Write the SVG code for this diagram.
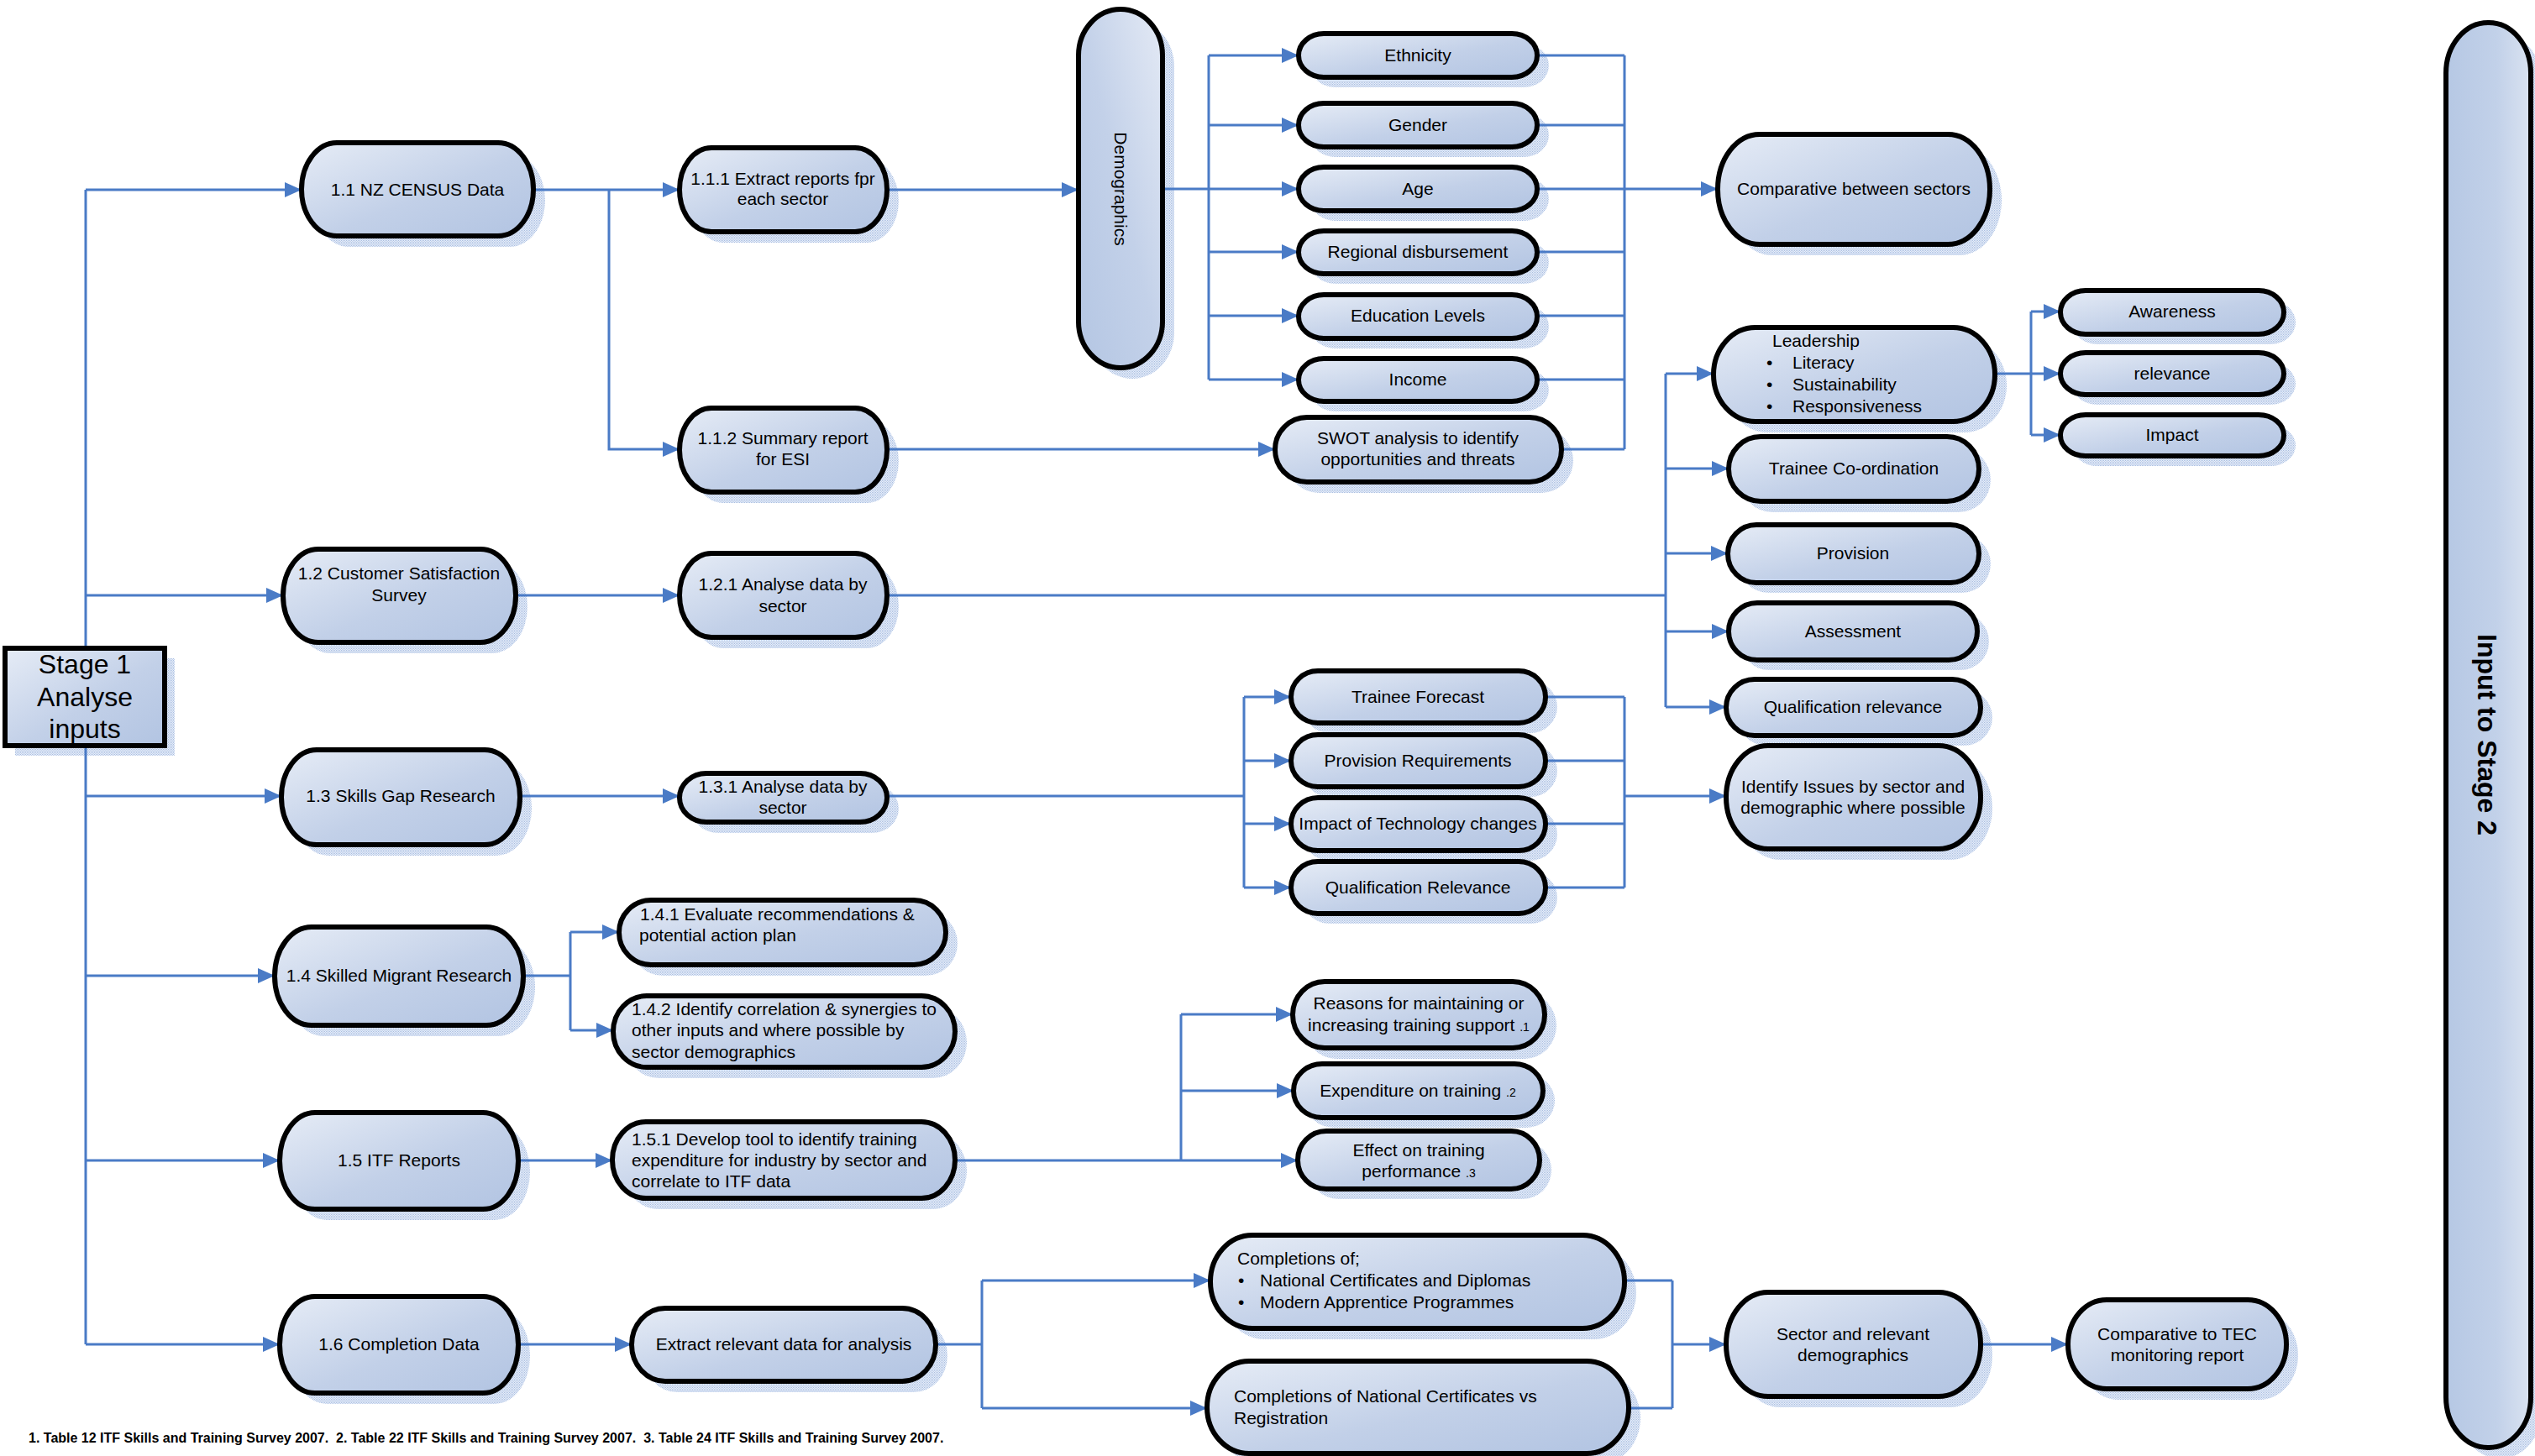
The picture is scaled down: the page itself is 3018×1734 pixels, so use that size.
<svg xmlns="http://www.w3.org/2000/svg" width="3018" height="1734" viewBox="0 0 3018 1734">
<defs>
<linearGradient id="g" x1="0" y1="0" x2="1" y2="1"><stop offset="0" stop-color="#e6ecf6"/><stop offset="0.55" stop-color="#c2d0e8"/><stop offset="1" stop-color="#b2c4e2"/></linearGradient>
<linearGradient id="gh" x1="0" y1="0" x2="1" y2="0"><stop offset="0" stop-color="#b6c8e4"/><stop offset="0.6" stop-color="#c2d1e9"/><stop offset="1" stop-color="#dae3f1"/></linearGradient>
<linearGradient id="gd" x1="1" y1="0" x2="0" y2="1"><stop offset="0" stop-color="#e4eaf5"/><stop offset="0.5" stop-color="#c3d1e9"/><stop offset="1" stop-color="#b4c6e3"/></linearGradient>
<pattern id="dots" width="2" height="2" patternUnits="userSpaceOnUse"><rect width="2" height="2" fill="#eaf0f9"/><rect width="1" height="1" fill="#a9bee2"/><rect x="1" y="1" width="1" height="1" fill="#c0d0ec"/></pattern>
<marker id="a" markerUnits="userSpaceOnUse" markerWidth="20" markerHeight="18" refX="20" refY="9" orient="auto"><path d="M0,0L20,9L0,18z" fill="#4a7bc6"/></marker>
</defs>
<style>
.nd{fill:url(#g);stroke:#000;stroke-width:6}
.sh{fill:url(#dots)}
.t{font-family:"Liberation Sans",Arial,sans-serif;font-size:21px;fill:#000}
.c{text-anchor:middle}
.b{font-weight:bold}
.ln{fill:none;stroke:#4a7bc6;stroke-width:3}
.ar{marker-end:url(#a)}
.s{font-size:14px}
</style>
<rect width="3018" height="1734" fill="#fff"/>

<g id="shadows">
<rect class="sh" x="18" y="784" width="190" height="116"/>
<rect class="sh" x="373" y="183" width="276" height="111" rx="42" ry="55.5"/>
<rect class="sh" x="351" y="667" width="277" height="111" rx="42" ry="55.5"/>
<rect class="sh" x="349" y="906" width="284" height="113" rx="42" ry="56.5"/>
<rect class="sh" x="341" y="1117" width="296" height="117" rx="44" ry="58.5"/>
<rect class="sh" x="347" y="1338" width="284" height="115" rx="42" ry="57.5"/>
<rect class="sh" x="347" y="1557" width="284" height="115" rx="42" ry="57.5"/>
<rect class="sh" x="823" y="189" width="247" height="100" rx="38" ry="50"/>
<rect class="sh" x="823" y="499" width="247" height="100" rx="38" ry="50"/>
<rect class="sh" x="823" y="672" width="247" height="100" rx="38" ry="50"/>
<rect class="sh" x="823" y="934" width="247" height="58" rx="32" ry="29"/>
<rect class="sh" x="751" y="1085" width="389" height="77" rx="38" ry="38.5"/>
<rect class="sh" x="744" y="1199" width="407" height="85" rx="40" ry="42.5"/>
<rect class="sh" x="743" y="1349" width="408" height="91" rx="40" ry="45.5"/>
<rect class="sh" x="766" y="1571" width="362" height="87" rx="40" ry="43.5"/>
<rect class="sh" x="1298" y="24" width="100" height="427" rx="50" ry="55"/>
<rect class="sh" x="1560" y="52" width="284" height="52" rx="30" ry="26"/>
<rect class="sh" x="1560" y="135" width="284" height="52" rx="30" ry="26"/>
<rect class="sh" x="1560" y="211" width="284" height="52" rx="30" ry="26"/>
<rect class="sh" x="1560" y="287" width="284" height="51" rx="30" ry="25.5"/>
<rect class="sh" x="1560" y="363" width="284" height="52" rx="30" ry="26"/>
<rect class="sh" x="1560" y="439" width="284" height="51" rx="30" ry="25.5"/>
<rect class="sh" x="1532" y="510" width="341" height="77" rx="38" ry="38.5"/>
<rect class="sh" x="2059" y="173" width="324" height="131" rx="50" ry="65.5"/>
<rect class="sh" x="2054" y="403" width="335" height="112" rx="50" ry="56"/>
<rect class="sh" x="2467" y="358" width="266" height="52" rx="30" ry="26"/>
<rect class="sh" x="2467" y="432" width="266" height="50" rx="30" ry="25"/>
<rect class="sh" x="2467" y="506" width="266" height="49" rx="30" ry="24.5"/>
<rect class="sh" x="2072" y="533" width="298" height="77" rx="38" ry="38.5"/>
<rect class="sh" x="2071" y="637" width="299" height="69" rx="34" ry="34.5"/>
<rect class="sh" x="2072" y="730" width="296" height="68" rx="34" ry="34"/>
<rect class="sh" x="2069" y="821" width="303" height="67" rx="34" ry="33.5"/>
<rect class="sh" x="2069" y="901" width="303" height="123" rx="50" ry="61.5"/>
<rect class="sh" x="1551" y="811" width="303" height="62" rx="32" ry="31"/>
<rect class="sh" x="1551" y="887" width="303" height="62" rx="32" ry="31"/>
<rect class="sh" x="1551" y="962" width="303" height="63" rx="32" ry="31.5"/>
<rect class="sh" x="1551" y="1038" width="303" height="62" rx="32" ry="31"/>
<rect class="sh" x="1553" y="1182" width="300" height="79" rx="38" ry="39.5"/>
<rect class="sh" x="1554" y="1279" width="297" height="64" rx="34" ry="32"/>
<rect class="sh" x="1559" y="1359" width="288" height="69" rx="34" ry="34.5"/>
<rect class="sh" x="1455" y="1484" width="493" height="111" rx="50" ry="55.5"/>
<rect class="sh" x="1451" y="1634" width="502" height="110" rx="50" ry="55"/>
<rect class="sh" x="2069" y="1552" width="303" height="124" rx="50" ry="62"/>
<rect class="sh" x="2476" y="1561" width="260" height="106" rx="46" ry="53"/>
<rect class="sh" x="2926" y="40" width="101" height="1697" rx="50" ry="60"/>
</g>

<g id="connectors">
<path class="ln" d="M102,226V1601"/>
<path class="ln ar" d="M102,226H359"/>
<path class="ln ar" d="M102,709H337"/>
<path class="ln ar" d="M102,948H335"/>
<path class="ln ar" d="M102,1162H327"/>
<path class="ln ar" d="M102,1382H333"/>
<path class="ln ar" d="M102,1601H333"/>
<path class="ln ar" d="M635,226H809"/>
<path class="ln ar" d="M725,226V535H809"/>
<path class="ln ar" d="M1056,226H1284"/>
<path class="ln ar" d="M1056,535H1518"/>
<path class="ln" d="M1439,66V452"/>
<path class="ln ar" d="M1384,225H1546"/>
<path class="ln ar" d="M1439,66H1546"/>
<path class="ln ar" d="M1439,149H1546"/>
<path class="ln ar" d="M1439,300H1546"/>
<path class="ln ar" d="M1439,376H1546"/>
<path class="ln ar" d="M1439,452H1546"/>
<path class="ln" d="M1934,66V535"/>
<path class="ln" d="M1830,66H1934M1830,149H1934M1830,300H1934M1830,376H1934M1830,452H1934M1859,535H1934"/>
<path class="ln ar" d="M1830,225H2045"/>
<path class="ln ar" d="M614,709H809"/>
<path class="ln" d="M1056,709H1983M1983,445V842"/>
<path class="ln ar" d="M1983,445H2040"/>
<path class="ln ar" d="M1983,558H2058"/>
<path class="ln ar" d="M1983,659H2057"/>
<path class="ln ar" d="M1983,752H2058"/>
<path class="ln ar" d="M1983,842H2055"/>
<path class="ln ar" d="M2375,445H2453"/>
<path class="ln" d="M2418,371V518"/>
<path class="ln ar" d="M2418,371H2453"/>
<path class="ln ar" d="M2418,518H2453"/>
<path class="ln ar" d="M619,948H809"/>
<path class="ln" d="M1056,948H1481M1481,830V1057"/>
<path class="ln ar" d="M1481,830H1537"/>
<path class="ln ar" d="M1481,906H1537"/>
<path class="ln ar" d="M1481,981H1537"/>
<path class="ln ar" d="M1481,1057H1537"/>
<path class="ln" d="M1840,830H1934M1840,906H1934M1840,981H1934M1840,1057H1934M1934,830V1057"/>
<path class="ln ar" d="M1934,948H2055"/>
<path class="ln" d="M623,1162H679M679,1110V1227"/>
<path class="ln ar" d="M679,1110H737"/>
<path class="ln ar" d="M679,1227H730"/>
<path class="ln ar" d="M617,1382H729"/>
<path class="ln ar" d="M1137,1382H1545"/>
<path class="ln" d="M1406,1208V1382"/>
<path class="ln ar" d="M1406,1208H1539"/>
<path class="ln ar" d="M1406,1299H1540"/>
<path class="ln ar" d="M617,1601H752"/>
<path class="ln" d="M1114,1601H1169M1169,1525V1677"/>
<path class="ln ar" d="M1169,1525H1441"/>
<path class="ln ar" d="M1169,1677H1437"/>
<path class="ln" d="M1934,1525H1991M1939,1677H1991M1991,1525V1677"/>
<path class="ln ar" d="M1991,1601H2055"/>
<path class="ln ar" d="M2358,1601H2462"/>
</g>

<g id="stage1">
<rect class="nd" x="6" y="772" width="190" height="116"/>
<text class="t c" style="font-size:32px"><tspan x="101" y="802">Stage 1</tspan><tspan x="101" y="841">Analyse</tspan><tspan x="101" y="879">inputs</tspan></text>
</g>

<g id="n11">
<rect class="nd" x="359" y="170" width="276" height="111" rx="42" ry="55.5"/>
<text class="t c" x="497" y="233">1.1 NZ CENSUS Data</text>
</g>
<g id="n12">
<rect class="nd" x="337" y="654" width="277" height="111" rx="42" ry="55.5"/>
<text class="t c"><tspan x="475" y="690">1.2 Customer Satisfaction</tspan><tspan x="475" y="716">Survey</tspan></text>
</g>
<g id="n13">
<rect class="nd" x="335" y="893" width="284" height="113" rx="42" ry="56.5"/>
<text class="t c" x="477" y="955">1.3 Skills Gap Research</text>
</g>
<g id="n14">
<rect class="nd" x="327" y="1104" width="296" height="117" rx="44" ry="58.5"/>
<text class="t c" x="475" y="1169">1.4 Skilled Migrant Research</text>
</g>
<g id="n15">
<rect class="nd" x="333" y="1325" width="284" height="115" rx="42" ry="57.5"/>
<text class="t c" x="475" y="1389">1.5 ITF Reports</text>
</g>
<g id="n16">
<rect class="nd" x="333" y="1544" width="284" height="115" rx="42" ry="57.5"/>
<text class="t c" x="475" y="1608">1.6 Completion Data</text>
</g>

<g id="n111">
<rect class="nd" x="809" y="176" width="247" height="100" rx="38" ry="50"/>
<text class="t c"><tspan x="932" y="220">1.1.1 Extract reports fpr</tspan><tspan x="932" y="244">each sector</tspan></text>
</g>
<g id="n112">
<rect class="nd" x="809" y="486" width="247" height="100" rx="38" ry="50"/>
<text class="t c"><tspan x="932" y="529">1.1.2 Summary report</tspan><tspan x="932" y="554">for ESI</tspan></text>
</g>
<g id="n121">
<rect class="nd" x="809" y="659" width="247" height="100" rx="38" ry="50"/>
<text class="t c"><tspan x="932" y="703">1.2.1 Analyse data by</tspan><tspan x="932" y="729">sector</tspan></text>
</g>
<g id="n131">
<rect class="nd" x="809" y="921" width="247" height="58" rx="32" ry="29"/>
<text class="t c"><tspan x="932" y="944">1.3.1 Analyse data by</tspan><tspan x="932" y="969">sector</tspan></text>
</g>
<g id="n141">
<rect class="nd" x="737" y="1072" width="389" height="77" rx="38" ry="38.5"/>
<text class="t"><tspan x="762" y="1096">1.4.1 Evaluate recommendations &amp;</tspan><tspan x="761" y="1121">potential action plan</tspan></text>
</g>
<g id="n142">
<rect class="nd" x="730" y="1186" width="407" height="85" rx="40" ry="42.5"/>
<text class="t"><tspan x="752" y="1209">1.4.2 Identify correlation &amp; synergies to</tspan><tspan x="752" y="1234">other inputs and where possible by</tspan><tspan x="752" y="1260">sector demographics</tspan></text>
</g>
<g id="n151">
<rect class="nd" x="729" y="1336" width="408" height="91" rx="40" ry="45.5"/>
<text class="t"><tspan x="752" y="1364">1.5.1 Develop tool to identify training</tspan><tspan x="752" y="1389">expenditure for industry by sector and</tspan><tspan x="752" y="1414">correlate to ITF data</tspan></text>
</g>
<g id="nextract">
<rect class="nd" x="752" y="1558" width="362" height="87" rx="40" ry="43.5"/>
<text class="t c" x="933" y="1608">Extract relevant data for analysis</text>
</g>

<g id="demographics">
<rect class="nd" style="fill:url(#gd)" x="1284" y="11" width="100" height="427" rx="50" ry="55"/>
<text class="t c" transform="translate(1327,225) rotate(90)">Demographics</text>
</g>

<g id="ethnicity">
<rect class="nd" x="1546" y="40" width="284" height="52" rx="30" ry="26"/>
<text class="t c" x="1688" y="73">Ethnicity</text>
</g>
<g id="gender">
<rect class="nd" x="1546" y="123" width="284" height="52" rx="30" ry="26"/>
<text class="t c" x="1688" y="156">Gender</text>
</g>
<g id="age">
<rect class="nd" x="1546" y="199" width="284" height="52" rx="30" ry="26"/>
<text class="t c" x="1688" y="232">Age</text>
</g>
<g id="regional">
<rect class="nd" x="1546" y="275" width="284" height="51" rx="30" ry="25.5"/>
<text class="t c" x="1688" y="307">Regional disbursement</text>
</g>
<g id="education">
<rect class="nd" x="1546" y="351" width="284" height="52" rx="30" ry="26"/>
<text class="t c" x="1688" y="383">Education Levels</text>
</g>
<g id="income">
<rect class="nd" x="1546" y="427" width="284" height="51" rx="30" ry="25.5"/>
<text class="t c" x="1688" y="459">Income</text>
</g>
<g id="swot">
<rect class="nd" x="1518" y="497" width="341" height="77" rx="38" ry="38.5"/>
<text class="t c"><tspan x="1688" y="529">SWOT analysis to identify</tspan><tspan x="1688" y="554">opportunities and threats</tspan></text>
</g>

<g id="comparative">
<rect class="nd" x="2045" y="160" width="324" height="131" rx="50" ry="65.5"/>
<text class="t c" x="2207" y="232">Comparative between sectors</text>
</g>

<g id="leadership">
<rect class="nd" x="2040" y="390" width="335" height="112" rx="50" ry="56"/>
<text class="t"><tspan x="2110" y="413">Leadership</tspan></text>
<text class="t"><tspan x="2103" y="439">•</tspan><tspan x="2134" y="439">Literacy</tspan><tspan x="2103" y="465">•</tspan><tspan x="2134" y="465">Sustainability</tspan><tspan x="2103" y="491">•</tspan><tspan x="2134" y="491">Responsiveness</tspan></text>
</g>
<g id="awareness">
<rect class="nd" x="2453" y="346" width="266" height="52" rx="30" ry="26"/>
<text class="t c" x="2586" y="378">Awareness</text>
</g>
<g id="relevance">
<rect class="nd" x="2453" y="420" width="266" height="50" rx="30" ry="25"/>
<text class="t c" x="2586" y="452">relevance</text>
</g>
<g id="impact">
<rect class="nd" x="2453" y="494" width="266" height="49" rx="30" ry="24.5"/>
<text class="t c" x="2586" y="525">Impact</text>
</g>
<g id="traineecoord">
<rect class="nd" x="2058" y="520" width="298" height="77" rx="38" ry="38.5"/>
<text class="t c" x="2207" y="565">Trainee Co-ordination</text>
</g>
<g id="provision">
<rect class="nd" x="2057" y="625" width="299" height="69" rx="34" ry="34.5"/>
<text class="t c" x="2206" y="666">Provision</text>
</g>
<g id="assessment">
<rect class="nd" x="2058" y="718" width="296" height="68" rx="34" ry="34"/>
<text class="t c" x="2206" y="759">Assessment</text>
</g>
<g id="qualrel">
<rect class="nd" x="2055" y="809" width="303" height="67" rx="34" ry="33.5"/>
<text class="t c" x="2206" y="849">Qualification relevance</text>
</g>
<g id="identify">
<rect class="nd" x="2055" y="888" width="303" height="123" rx="50" ry="61.5"/>
<text class="t c"><tspan x="2206" y="944">Identify Issues by sector and</tspan><tspan x="2206" y="969">demographic where possible</tspan></text>
</g>

<g id="traineeforecast">
<rect class="nd" x="1537" y="799" width="303" height="62" rx="32" ry="31"/>
<text class="t c" x="1688" y="837">Trainee Forecast</text>
</g>
<g id="provisionreq">
<rect class="nd" x="1537" y="875" width="303" height="62" rx="32" ry="31"/>
<text class="t c" x="1688" y="913">Provision Requirements</text>
</g>
<g id="impacttech">
<rect class="nd" x="1537" y="950" width="303" height="63" rx="32" ry="31.5"/>
<text class="t c" x="1688" y="988">Impact of Technology changes</text>
</g>
<g id="qualRelevance">
<rect class="nd" x="1537" y="1026" width="303" height="62" rx="32" ry="31"/>
<text class="t c" x="1688" y="1064">Qualification Relevance</text>
</g>

<g id="reasons">
<rect class="nd" x="1539" y="1169" width="300" height="79" rx="38" ry="39.5"/>
<text class="t c"><tspan x="1689" y="1202">Reasons for maintaining or</tspan><tspan x="1689" y="1228">increasing training support <tspan class="s">.1</tspan></tspan></text>
</g>
<g id="expenditure">
<rect class="nd" x="1540" y="1267" width="297" height="64" rx="34" ry="32"/>
<text class="t c" x="1688" y="1306">Expenditure on training <tspan class="s">.2</tspan></text>
</g>
<g id="effect">
<rect class="nd" x="1545" y="1347" width="288" height="69" rx="34" ry="34.5"/>
<text class="t c"><tspan x="1689" y="1377">Effect on training</tspan><tspan x="1689" y="1402">performance <tspan class="s">.3</tspan></tspan></text>
</g>

<g id="completionsof">
<rect class="nd" x="1441" y="1471" width="493" height="111" rx="50" ry="55.5"/>
<text class="t"><tspan x="1473" y="1506">Completions of;</tspan></text>
<text class="t"><tspan x="1474" y="1532">•</tspan><tspan x="1500" y="1532">National Certificates and Diplomas</tspan><tspan x="1474" y="1558">•</tspan><tspan x="1500" y="1558">Modern Apprentice Programmes</tspan></text>
</g>
<g id="completionsvs">
<rect class="nd" x="1437" y="1621" width="502" height="110" rx="50" ry="55"/>
<text class="t"><tspan x="1469" y="1670">Completions of National Certificates vs</tspan><tspan x="1469" y="1696">Registration</tspan></text>
</g>
<g id="sector">
<rect class="nd" x="2055" y="1539" width="303" height="124" rx="50" ry="62"/>
<text class="t c"><tspan x="2206" y="1596">Sector and relevant</tspan><tspan x="2206" y="1621">demographics</tspan></text>
</g>
<g id="tec">
<rect class="nd" x="2462" y="1548" width="260" height="106" rx="46" ry="53"/>
<text class="t c"><tspan x="2592" y="1596">Comparative to TEC</tspan><tspan x="2592" y="1621">monitoring report</tspan></text>
</g>

<g id="stage2">
<rect class="nd" style="fill:url(#gh)" x="2912" y="27" width="101" height="1697" rx="50" ry="60"/>
<text class="t c b" style="font-size:32px" transform="translate(2950,875) rotate(90)">Input to Stage 2</text>
</g>

<g id="footnote">
<text class="t b" style="font-size:16px;white-space:pre" xml:space="preserve" x="34" y="1718">1. Table 12 ITF Skills and Training Survey 2007.  2. Table 22 ITF Skills and Training Survey 2007.  3. Table 24 ITF Skills and Training Survey 2007.</text>
</g>
</svg>
